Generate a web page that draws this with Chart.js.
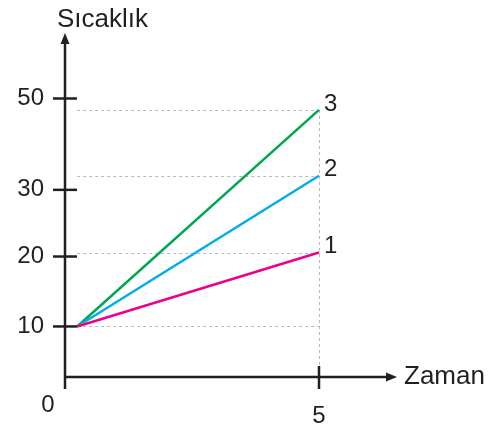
<!DOCTYPE html>
<html>
<head>
<meta charset="utf-8">
<script src="https://cdn.jsdelivr.net/npm/chart.js@4"></script>
<style>
    html, body { margin: 0; padding: 0; background: #fff; }
    #wrap { width: 501px; height: 427px; }
</style>
</head>
<body>
<div id="wrap"><canvas id="chart"></canvas></div>
<script>
// Chart data
const times = [0.24, 5];
const series1 = [10, 20.6];
const series2 = [10, 33.1];
const series3 = [10, 47.5];
const seriesNames = ['1', '2', '3'];
const yTicks = [10, 20, 30, 50];
const xTicks = [5];
const yTitle = 'Sıcaklık';
const xTitle = 'Zaman';

const ink = '#231f20';
const fontFamily = '"Liberation Sans", Arial, sans-serif';

// The drawing's y axis is not evenly spaced: map values piece by piece
class PiecewiseScale extends Chart.LinearScale {
    static id = 'piecewise';
    static defaults = {};

    _fraction(value) {
        const stops = this.options.stops;
        if (value <= stops[0][0]) return stops[0][1];
        for (let i = 1; i < stops.length; i++) {
            const [v0, f0] = stops[i - 1];
            const [v1, f1] = stops[i];
            if (value <= v1) return f0 + (value - v0) / (v1 - v0) * (f1 - f0);
        }
        return stops[stops.length - 1][1];
    }

    getPixelForValue(value) {
        return this.bottom - this._fraction(value) * (this.bottom - this.top);
    }

    getValueForPixel(pixel) {
        const stops = this.options.stops;
        const f = (this.bottom - pixel) / (this.bottom - this.top);
        for (let i = 1; i < stops.length; i++) {
            const [v0, f0] = stops[i - 1];
            const [v1, f1] = stops[i];
            if (f <= f1) return v0 + (f - f0) / (f1 - f0) * (v1 - v0);
        }
        return stops[stops.length - 1][0];
    }
}
Chart.register(PiecewiseScale);

function toPoints(values) {
    return values.map((v, i) => ({ x: times[i], y: v }));
}

const colors = ['#ec008c', '#00aeef', '#00a651'];
const allSeries = [series1, series2, series3];

// Axes with arrows, crossing tick marks, dotted guides and labels
const sketchPlugin = {
    id: 'sketch',
    beforeDatasetsDraw(chart) {
        const ctx = chart.ctx;
        const xs = chart.scales.x;
        const ys = chart.scales.y;
        const bottom = chart.chartArea.bottom;
        const x0 = xs.getPixelForValue(times[0]);
        const x1 = xs.getPixelForValue(times[times.length - 1]);
        ctx.save();
        ctx.strokeStyle = '#b8b8b8';
        ctx.lineWidth = 1;
        ctx.setLineDash([3, 3]);
        const levels = [series1[0]].concat(allSeries.map(s => s[s.length - 1]));
        levels.forEach(v => {
            const py = Math.round(ys.getPixelForValue(v)) + 0.5;
            ctx.beginPath();
            ctx.moveTo(x0, py);
            ctx.lineTo(x1, py);
            ctx.stroke();
        });
        const topEnd = Math.max(...allSeries.map(s => s[s.length - 1]));
        ctx.beginPath();
        ctx.moveTo(Math.round(x1) + 0.5, ys.getPixelForValue(topEnd));
        ctx.lineTo(Math.round(x1) + 0.5, bottom - 11);
        ctx.stroke();
        ctx.restore();
    },
    afterDraw(chart) {
        const ctx = chart.ctx;
        const { left, right, top, bottom } = chart.chartArea;
        const xs = chart.scales.x;
        const ys = chart.scales.y;
        ctx.save();
        ctx.strokeStyle = ink;
        ctx.fillStyle = ink;
        ctx.lineWidth = 2.5;

        // y axis
        const yTip = top - 65.5;
        ctx.beginPath();
        ctx.moveTo(left, bottom + 12);
        ctx.lineTo(left, yTip + 6);
        ctx.stroke();
        ctx.beginPath();
        ctx.moveTo(left, yTip);
        ctx.lineTo(left - 4.5, yTip + 11);
        ctx.lineTo(left + 4.5, yTip + 11);
        ctx.closePath();
        ctx.fill();

        // x axis
        const xTip = right + 78;
        ctx.beginPath();
        ctx.moveTo(left, bottom);
        ctx.lineTo(xTip - 6, bottom);
        ctx.stroke();
        ctx.beginPath();
        ctx.moveTo(xTip, bottom);
        ctx.lineTo(xTip - 11, bottom - 4.5);
        ctx.lineTo(xTip - 11, bottom + 4.5);
        ctx.closePath();
        ctx.fill();

        // tick marks crossing the axes
        yTicks.forEach(v => {
            const py = ys.getPixelForValue(v);
            ctx.beginPath();
            ctx.moveTo(left - 12, py);
            ctx.lineTo(left + 12, py);
            ctx.stroke();
        });
        xTicks.forEach(v => {
            const px = xs.getPixelForValue(v);
            ctx.beginPath();
            ctx.moveTo(px, bottom - 11);
            ctx.lineTo(px, bottom + 12);
            ctx.stroke();
        });

        // text
        ctx.font = '24px ' + fontFamily;
        ctx.textAlign = 'center';
        ctx.textBaseline = 'middle';
        ctx.fillText('0', left - 17, bottom + 28);

        ctx.textAlign = 'left';
        allSeries.forEach((s, i) => {
            const px = xs.getPixelForValue(times[times.length - 1]);
            const py = ys.getPixelForValue(s[s.length - 1]);
            ctx.fillText(seriesNames[i], px + 5, py - 6);
        });

        ctx.font = '26px ' + fontFamily;
        ctx.textBaseline = 'alphabetic';
        ctx.fillText(yTitle, left - 8, top - 71.5);
        ctx.textBaseline = 'middle';
        ctx.fillText(xTitle, xTip + 7, bottom);
        ctx.restore();
    }
};

Chart.defaults.font.family = fontFamily;
Chart.defaults.color = ink;

new Chart(document.getElementById('chart'), {
    type: 'line',
    data: {
        datasets: allSeries.map((s, i) => ({
            label: seriesNames[i],
            data: toPoints(s),
            borderColor: colors[i],
            borderWidth: 2.5,
            pointRadius: 0,
            tension: 0,
            clip: false
        }))
    },
    options: {
        responsive: true,
        maintainAspectRatio: false,
        animation: false,
        layout: { padding: { top: 98.5, right: 182, left: 0, bottom: 0 } },
        plugins: {
            legend: { display: false },
            tooltip: { enabled: false }
        },
        scales: {
            x: {
                type: 'linear',
                min: 0,
                max: 5,
                grid: { display: false, drawTicks: false },
                border: { display: false },
                afterBuildTicks: scale => { scale.ticks = xTicks.map(v => ({ value: v })); },
                afterFit: scale => { scale.height = 50; },
                ticks: { font: { size: 24 }, padding: 25, maxRotation: 0 }
            },
            y: {
                type: 'piecewise',
                min: 0,
                max: 50,
                stops: [[0, 0], [10, 0.1815], [20, 0.4326], [30, 0.672], [50, 1]],
                grid: { display: false, drawTicks: false },
                border: { display: false },
                afterBuildTicks: scale => { scale.ticks = yTicks.map(v => ({ value: v })); },
                afterFit: scale => { scale.width = 65; },
                ticks: { font: { size: 24 }, padding: 21 }
            }
        }
    },
    plugins: [sketchPlugin]
});
</script>
</body>
</html>
